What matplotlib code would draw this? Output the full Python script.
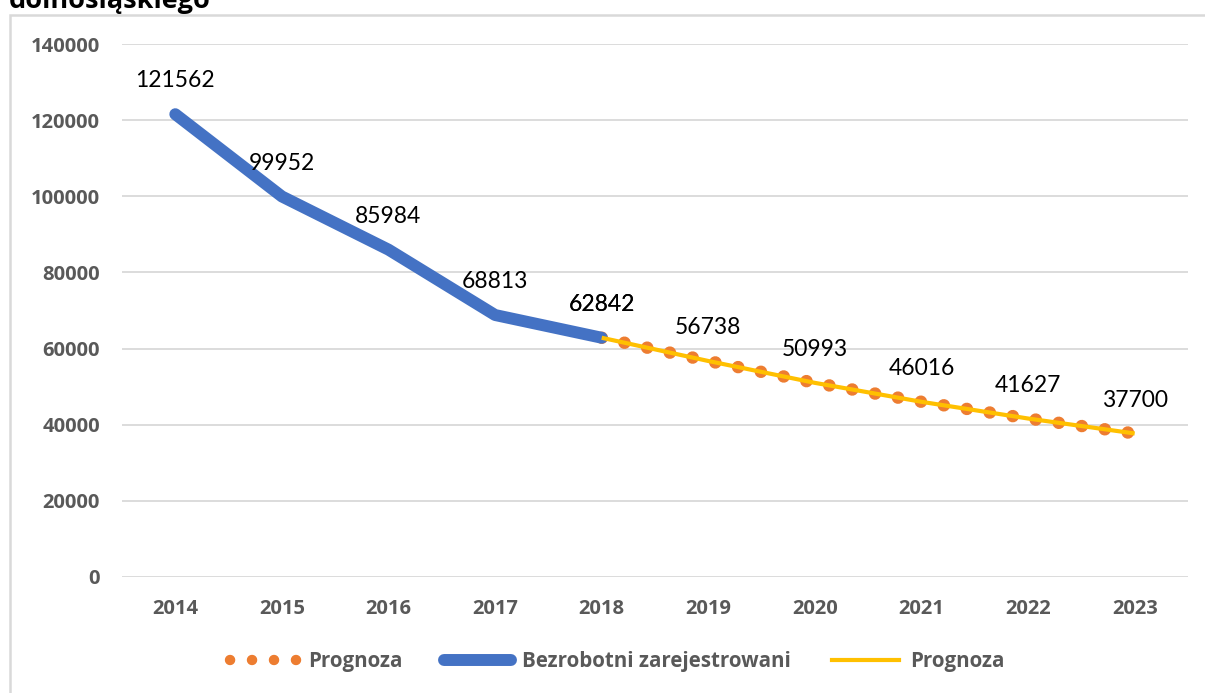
import matplotlib
matplotlib.use("Agg")
import matplotlib.pyplot as plt
from matplotlib.lines import Line2D
from matplotlib.patches import Rectangle

years = ['2014', '2015', '2016', '2017', '2018', '2019', '2020', '2021', '2022', '2023']
registered = [121562, 99952, 85984, 68813, 62842]
forecast = [62842, 56738, 50993, 46016, 41627, 37700]
y_ticks = [0, 20000, 40000, 60000, 80000, 100000, 120000, 140000]
title_text = 'dolnośląskiego'
label_registered = 'Bezrobotni zarejestrowani'
label_forecast = 'Prognoza'

W, H = 1205, 693
fig = plt.figure(figsize=(W / 100, H / 100), dpi=100)
plt.rcParams['font.family'] = ['Lato', 'DejaVu Sans']
BOLD = ['Open Sans', 'DejaVu Sans']

# chart frame (extends past right/bottom edges)
fig.patches.append(Rectangle((10 / W, -0.05), 1.2, (H - 15) / H + 0.05,
                             transform=fig.transFigure, fill=False,
                             edgecolor='#d9d9d9', linewidth=1.8))
fig.text(9 / W, 1 - 8 / H, title_text, fontsize=19.5, fontweight='bold',
         family=BOLD, color='black', ha='left', va='baseline')

left, right = 122 / W, 1188 / W
bottom, top = 1 - 577 / H, 1 - 44 / H
ax = fig.add_axes([left, bottom, right - left, top - bottom])

x_all = list(range(len(years)))
x_reg = x_all[:len(registered)]
x_fc = x_all[len(registered) - 1:]

ax.set_xlim(-0.5, len(years) - 0.5)
ax.set_ylim(0, 140000)
ax.set_yticks(y_ticks)
ax.set_yticklabels([str(v) for v in y_ticks])
ax.set_xticks(x_all)
ax.set_xticklabels(years)
ax.yaxis.grid(True, color='#d9d9d9', linewidth=1.3)
ax.set_axisbelow(True)
for s in ax.spines.values():
    s.set_visible(False)
ax.tick_params(axis='both', length=0, labelcolor='#595959')
ax.tick_params(axis='y', pad=16)
ax.tick_params(axis='x', pad=16)
for t in ax.get_xticklabels() + ax.get_yticklabels():
    t.set_fontweight('bold')
    t.set_family(BOLD)
    t.set_fontsize(14.5)

DOTS = (0, (0.01, 1.85))
# forecast dotted (orange)
ax.plot(x_fc, forecast, color='#ED7D31', linewidth=9,
        linestyle=DOTS, dash_capstyle='round', zorder=3)
# registered (blue)
ax.plot(x_reg, registered, color='#4472C4', linewidth=8.6,
        solid_capstyle='round', solid_joinstyle='round', zorder=4)
# forecast line (yellow)
ax.plot(x_fc, forecast, color='#FFC000', linewidth=3, zorder=5,
        solid_capstyle='butt')

for xi, v in zip(x_reg, registered):
    ax.annotate(str(v), (xi, v), xytext=(0, 24), textcoords='offset points',
                ha='center', va='center', fontsize=16.5, color='black', zorder=6)
for xi, v in zip(x_fc, forecast):
    ax.annotate(str(v), (xi, v), xytext=(0, 24), textcoords='offset points',
                ha='center', va='center', fontsize=16.5, color='black', zorder=6)

handles = [
    Line2D([0], [0], color='#ED7D31', linewidth=7.5, linestyle=(0, (0.01, 2.1)),
           dash_capstyle='round'),
    Line2D([0], [0], color='#4472C4', linewidth=8.6, solid_capstyle='round'),
    Line2D([0], [0], color='#FFC000', linewidth=3),
]
labels = [label_forecast, label_registered, label_forecast]
leg = fig.legend(handles, labels, loc='center', bbox_to_anchor=(617 / W, 1 - 662 / H),
                 ncol=3, frameon=False, handlelength=3.3, handletextpad=0.5,
                 columnspacing=2.0,
                 prop={'family': BOLD, 'weight': 'bold', 'size': 14.8})
for t in leg.get_texts():
    t.set_color('#595959')

fig.savefig('out.png', dpi=100)
